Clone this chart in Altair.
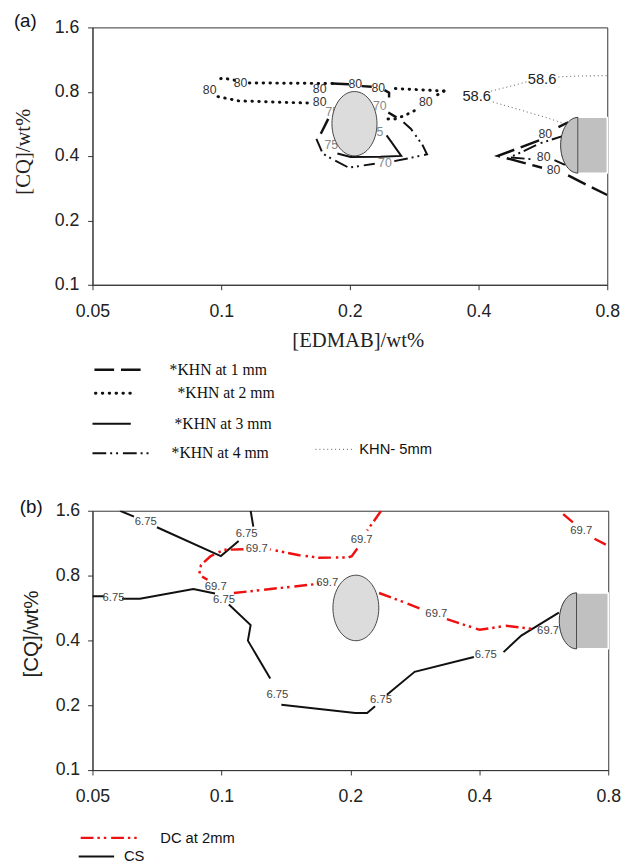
import altair as alt
import pandas as pd

# ================= Panel (a): KHN contours =================
# KHN at 1 mm (long dashes)
k1_x = [0.182, 0.199, 0.213, 0.225, 0.241, 0.247, 0.247, 0.246, 0.257, 0.178, 0.171,
        0.648, 0.615, 0.554, 0.498, 0.444, 0.498, 0.563, 0.648, 0.715, 0.8]
k1_y = [0.874, 0.868, 0.850, 0.844, 0.814, 0.792, 0.751, 0.640, 0.607, 0.597, 0.509,
        0.576, 0.546, 0.474, 0.437, 0.401, 0.377, 0.353, 0.325, 0.294, 0.263]
k1_seg = [1, 1, 2, 2, 3, 3, 3, 4, 4, 5, 5, 6, 6, 7, 7, 7, 7, 7, 8, 8, 8]

# KHN at 2 mm (dots)
k2_x = [0.332, 0.292, 0.252, 0.182, 0.1146, 0.1075, 0.1008, 0.0973, 0.0983, 0.1098, 0.1638,
        0.332, 0.317, 0.283, 0.268, 0.255, 0.2437]
k2_y = [0.806, 0.817, 0.829, 0.874, 0.880, 0.906, 0.928, 0.906, 0.759, 0.725, 0.707,
        0.806, 0.764, 0.652, 0.618, 0.597, 0.597]
k2_seg = [1, 1, 1, 2, 2, 3, 3, 3, 4, 4, 4, 5, 5, 6, 6, 6, 6]

# KHN at 3 mm (solid)
k3_x = [0.187, 0.2008, 0.236, 0.2637, 0.250, 0.2437]
k3_y = [0.4115, 0.396, 0.397, 0.401, 0.466, 0.500]
k3_seg = [1, 1, 1, 1, 1, 1]

# KHN at 4 mm (dash-dot-dot)
k4_x = [0.167, 0.1727, 0.182, 0.1988, 0.2137, 0.2287,
        0.254, 0.273, 0.303, 0.296, 0.278, 0.267,
        0.637, 0.554, 0.502, 0.476, 0.476, 0.530, 0.602, 0.637]
k4_y = [0.482, 0.4115, 0.387, 0.353, 0.361, 0.368,
        0.379, 0.390, 0.4075, 0.449, 0.536, 0.576,
        0.500, 0.4575, 0.416, 0.397, 0.394, 0.387, 0.383, 0.364]
k4_seg = [1, 1, 1, 1, 1, 1, 2, 2, 2, 2, 2, 2, 3, 3, 3, 3, 4, 4, 5, 5]

# KHN - 5 mm (thin dots)
k5_x = [0.428, 0.476, 0.525, 0.615, 0.683, 0.8, 0.432, 0.508, 0.577, 0.637]
k5_y = [0.806, 0.850, 0.896, 0.938, 0.948, 0.951, 0.717, 0.652, 0.605, 0.566]
k5_seg = [1, 1, 1, 2, 2, 2, 3, 3, 3, 3]

# contour labels of panel (a)
la_dark_x = [0.206, 0.233, 0.111, 0.094, 0.170, 0.170, 0.301, 0.573, 0.599, 0.568]
la_dark_y = [0.865, 0.835, 0.874, 0.814, 0.820, 0.712, 0.712, 0.509, 0.345, 0.397]
la_dark_t = ["80", "80", "80", "80", "80", "80", "80", "80", "80", "80"]
la_gray_x = [0.235, 0.182, 0.181, 0.231, 0.2415]
la_gray_y = [0.687, 0.640, 0.449, 0.518, 0.370]
la_gray_t = ["70", "75", "75", "75", "70"]
la_big_x = [0.396, 0.563]
la_big_y = [0.764, 0.912]
la_big_t = ["58.6", "58.6"]

# grey region markers of panel (a)
ell_a_x = [0.205]
ell_a_y = [0.567]
half_a_x = [0.683]
half_a_y = [0.4496]
rect_a_x1 = [0.683]
rect_a_x2 = [0.8]
rect_a_y1 = [0.333]
rect_a_y2 = [0.607]

legend_a = ["*KHN at 1 mm", "*KHN at 2 mm", "*KHN at 3 mm", "*KHN at 4 mm", "KHN- 5mm"]

# ================= Panel (b): DC and CS =================
dc_x = [0.236, 0.2189, 0.2076, 0.2015, 0.198, 0.1689, 0.1519, 0.1298,
        0.1126, 0.1014, 0.0944, 0.0896, 0.0887, 0.0928,
        0.1069, 0.1689, 0.2333, 0.2626, 0.2947,
        0.336, 0.401, 0.4615, 0.541, 0.628, 0.668, 0.743, 0.8]
dc_y = [1.6, 1.295, 1.068, 0.985, 0.971, 0.968, 0.995, 1.058,
        1.060, 1.054, 0.985, 0.896, 0.806, 0.765,
        0.664, 0.733, 0.664, 0.6085, 0.557,
        0.502, 0.448, 0.4675, 0.451, 1.543, 1.389, 1.186, 1.098]
dc_seg = [1, 1, 2, 2, 2, 2, 2, 2, 3, 3, 3, 3, 3, 3, 4, 4, 5, 5, 5,
          6, 6, 6, 6, 7, 7, 8, 8]

cs_x = [0.058, 0.0625, 0.0707, 0.0997, 0.1097, 0.1187, 0.117, 0.05, 0.0533,
        0.0586, 0.0645, 0.086, 0.0966, 0.1041, 0.117, 0.1153, 0.130,
        0.138, 0.2054, 0.2189, 0.2284, 0.2434, 0.2825, 0.3885, 0.4556, 0.5013, 0.6134]
cs_y = [1.6, 1.501, 1.341, 0.985, 1.158, 1.351, 1.6, 0.641, 0.641,
        0.624, 0.624, 0.693, 0.660, 0.587, 0.471, 0.399, 0.2665,
        0.201, 0.184, 0.184, 0.1977, 0.224, 0.286, 0.335, 0.353, 0.421, 0.538]
cs_seg = [1, 1, 2, 2, 2, 3, 3, 4, 4, 5, 5, 5, 5, 6, 6, 6, 6,
          7, 7, 7, 7, 8, 8, 8, 9, 9, 9]

lb_cs_x = [0.0666, 0.1145, 0.056, 0.1014, 0.1351, 0.2358, 0.414]
lb_cs_y = [1.414, 1.250, 0.628, 0.613, 0.222, 0.212, 0.341]
lb_cs_t = ["6.75"] * 7
lb_dc_x = [0.2125, 0.1209, 0.097, 0.1766, 0.3175, 0.579, 0.692]
lb_dc_y = [1.174, 1.060, 0.707, 0.740, 0.529, 0.440, 1.286]
lb_dc_t = ["69.7"] * 7

ell_b_x = [0.206]
ell_b_y = [0.566]
half_b_x = [0.675]
half_b_y = [0.493]
rect_b_x1 = [0.675]
rect_b_x2 = [0.8]
rect_b_y1 = [0.366]
rect_b_y2 = [0.664]

legend_b = ["DC at 2mm", "CS"]

x_ticks = [0.05, 0.1, 0.2, 0.4, 0.8]
y_ticks = [0.1, 0.2, 0.4, 0.8, 1.6]

# ================= helpers =================
SANS = "Liberation Sans"
SERIF = "Liberation Serif"
k = 0.5523
ELLIPSE = ("M0,-1 C{a},-1 {b},-{k} {b},0 C{b},{k} {a},1 0,1 "
           "C-{a},1 -{b},{k} -{b},0 C-{b},-{k} -{a},-1 0,-1 Z").format(a=round(k * 0.7, 4), b=0.7, k=k)
HALF = ("M0,-1 C-{a},-1 -{b},-{k} -{b},0 C-{b},{k} -{a},1 0,1 Z").format(a=round(k * 0.62, 4), b=0.62, k=k)

xscale = alt.Scale(type="log", base=2, domain=[0.05, 0.8], nice=False)
yscale = alt.Scale(type="log", base=2, domain=[0.1, 1.6], nice=False)

common_axis = dict(labelFont=SANS, labelFontSize=18, labelColor="#222", tickSize=5,
                   tickColor="#333", domainColor="#333", grid=False, labelFlush=False,
                   labelOverlap=False, format="~g")


def enc_x(title_kw):
    return alt.X("x:Q", scale=xscale, axis=alt.Axis(values=x_ticks, labelPadding=13, **title_kw, **common_axis))


def enc_y(title_kw, pad):
    return alt.Y("y:Q", scale=yscale, axis=alt.Axis(values=y_ticks, labelPadding=pad, **title_kw, **common_axis))


def line_df(xs, ys, segs):
    return pd.DataFrame({"x": xs, "y": ys, "seg": segs, "i": list(range(len(xs)))})


def lines(X, Y, xs, ys, segs, **mk):
    return alt.Chart(line_df(xs, ys, segs)).mark_line(clip=True, **mk).encode(
        x=X, y=Y, detail="seg:N", order="i:Q")


def labels(X, Y, xs, ys, ts, **mk):
    return alt.Chart(pd.DataFrame({"x": xs, "y": ys, "t": ts})).mark_text(
        font=SANS, align="center", baseline="middle", **mk).encode(x=X, y=Y, text="t:N")


def markers(X, Y, ex, ey, hx, hy, rx1, rx2, ry1, ry2, esize, hsize):
    rect = alt.Chart(pd.DataFrame({"x": rx1, "x2": rx2, "y": ry1, "y2": ry2})).mark_rect(
        fill="#c0c0c0", stroke="#ffffff", strokeWidth=1.5).encode(x=X, x2="x2:Q", y=Y, y2="y2:Q")
    half = alt.Chart(pd.DataFrame({"x": hx, "y": hy})).mark_point(
        shape=HALF, size=hsize, filled=True, fill="#c0c0c0", stroke="#333", strokeWidth=1,
        opacity=1).encode(x=X, y=Y)
    ell = alt.Chart(pd.DataFrame({"x": ex, "y": ey})).mark_point(
        shape=ELLIPSE, size=esize, filled=True, fill="#dcdcdc", stroke="#444", strokeWidth=1,
        opacity=1).encode(x=X, y=Y)
    return [rect, half, ell]


one = pd.DataFrame({"k": [0]})


def legend_line(x1, x2, y, **mk):
    return alt.Chart(one).mark_rule(**mk).encode(x=alt.value(x1), x2=alt.value(x2), y=alt.value(y))


def legend_text(txt, x, y, font, size):
    return alt.Chart(pd.DataFrame({"t": [txt]})).mark_text(
        align="left", baseline="middle", font=font, fontSize=size, color="#111").encode(
        text="t:N", x=alt.value(x), y=alt.value(y))


# styles
S1 = dict(color="#111", strokeWidth=2.5, strokeDash=[20, 7])
S2 = dict(color="#111", strokeWidth=3, strokeDash=[0.5, 6.5], strokeCap="round")
S3 = dict(color="#111", strokeWidth=2)
S4 = dict(color="#111", strokeWidth=2, strokeDash=[14, 4, 2, 4, 2, 5])
S5 = dict(color="#555", strokeWidth=1, strokeDash=[1, 3])
SDC = dict(color="#ee1111", strokeWidth=2.5, strokeDash=[13, 4, 2.5, 4, 2.5, 5])
SCS = dict(color="#111", strokeWidth=2)

# ================= Panel (a) =================
Xa = enc_x(dict(title="[EDMAB]/wt%", titleFont=SERIF, titleFontSize=21, titleFontWeight="normal",
                titleColor="#222", titleX=270, titleY=57, titleBaseline="middle", titleAlign="center"))
Ya = enc_y(dict(title="[CQ]/wt%", titleFont=SERIF, titleFontSize=21, titleFontWeight="normal",
                titleColor="#222", titleAngle=270, titleX=-70, titleY=126, titleBaseline="middle",
                titleAlign="center"), 9)

layers_a = [
    lines(Xa, Ya, k5_x, k5_y, k5_seg, **S5),
    lines(Xa, Ya, k2_x, k2_y, k2_seg, **S2),
    lines(Xa, Ya, k1_x, k1_y, k1_seg, **S1),
    lines(Xa, Ya, k3_x, k3_y, k3_seg, **S3),
    lines(Xa, Ya, k4_x, k4_y, k4_seg, **S4),
    labels(Xa, Ya, la_dark_x, la_dark_y, la_dark_t, fontSize=12.5, color="#333"),
    labels(Xa, Ya, la_gray_x, la_gray_y, la_gray_t, fontSize=12.5, color="#888"),
    labels(Xa, Ya, la_big_x, la_big_y, la_big_t, fontSize=15, color="#222"),
] + markers(Xa, Ya, ell_a_x, ell_a_y, half_a_x, half_a_y, rect_a_x1, rect_a_x2,
            rect_a_y1, rect_a_y2, 4290, 3215) + [
    legend_text("(a)", -80, -6, SANS, 19),
    legend_line(2, 55, 348.5, **S1),
    legend_text(legend_a[0], 78.5, 348.5, SERIF, 16),
    legend_line(3, 41, 372.5, **S2),
    legend_text(legend_a[1], 86.5, 372.5, SERIF, 16),
    legend_line(0, 39, 403.5, **S3),
    legend_text(legend_a[2], 83.5, 403.5, SERIF, 16),
    legend_line(0, 59, 433.5, **S4),
    legend_text(legend_a[3], 80.5, 433.5, SERIF, 16),
    legend_line(227, 264, 429.5, **S5),
    legend_text(legend_a[4], 271.5, 429.5, SANS, 15),
]
panel_a = alt.layer(*layers_a).properties(width=524, height=262)

# ================= Panel (b) =================
Xb = enc_x(dict(title=""))
Yb = enc_y(dict(title="[CQ]/wt%", titleFont=SANS, titleFontSize=21, titleFontWeight="normal",
                titleColor="#222", titleAngle=270, titleX=-62, titleY=125, titleBaseline="middle",
                titleAlign="center"), 8)

layers_b = [
    lines(Xb, Yb, cs_x, cs_y, cs_seg, **SCS),
    lines(Xb, Yb, dc_x, dc_y, dc_seg, **SDC),
    labels(Xb, Yb, lb_cs_x, lb_cs_y, lb_cs_t, fontSize=11.5, color="#444"),
    labels(Xb, Yb, lb_dc_x, lb_dc_y, lb_dc_t, fontSize=11.5, color="#444"),
] + markers(Xb, Yb, ell_b_x, ell_b_y, half_b_x, half_b_y, rect_b_x1, rect_b_x2,
            rect_b_y1, rect_b_y2, 4449, 3249) + [
    legend_text("(b)", -74, -4, SANS, 19),
    legend_line(-12, 47, 333, **SDC),
    legend_text(legend_b[0], 69, 333, SANS, 15),
    legend_line(-14, 22, 352, **SCS),
    legend_text(legend_b[1], 32, 352, SANS, 15),
]
panel_b = alt.layer(*layers_b).properties(width=525, height=264)

chart = alt.concat(panel_a, panel_b, columns=1, spacing=36, align="none").properties(
    padding={"left": 4, "top": -4, "right": 0, "bottom": 0}
).configure_view(stroke="#333", strokeWidth=1)

chart.save("out.html", embed_options={"renderer": "svg", "actions": False})
